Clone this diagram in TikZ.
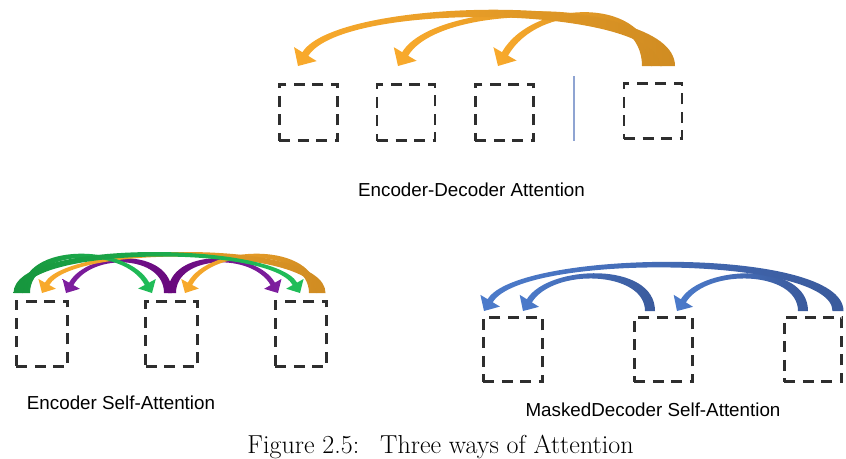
\documentclass[tikz,border=0pt]{standalone}
\usepackage{fontspec}
\newfontfamily\arialf{Liberation Sans}
\definecolor{orH}{HTML}{F9AA2C}
\definecolor{orM}{HTML}{F6B94E}
\definecolor{orB}{HTML}{D08C22}
\definecolor{grH}{HTML}{20BE5A}
\definecolor{grB}{HTML}{17963D}
\definecolor{puH}{HTML}{7E1FA0}
\definecolor{puB}{HTML}{68097C}
\definecolor{blH}{HTML}{4C7BCB}
\definecolor{blB}{HTML}{3A5A9C}
\definecolor{boxgray}{HTML}{2E2E2E}
\definecolor{sepcol}{HTML}{8FA4D2}
% tapered curved arrow:
% #1 xs, #2 xt, #3 yb, #4 H, #5 q, #6 base width, #7 neck width, #8 head length, #9 fill style
\newcommand\tparr[9]{%
 \pgfmathsetmacro\tpd{(#2>#1)?1:-1}%
 \pgfmathsetmacro\tpn{sqrt((#5)*(#5)+(#4)*(#4))}%
 \pgfmathsetmacro\tpux{(\tpd)*(#5)/(\tpn)}%
 \pgfmathsetmacro\tpuy{(#4)/(\tpn)}%
 \pgfmathsetmacro\tppx{(\tpd)*(\tpuy)}%
 \pgfmathsetmacro\tppy{-(\tpd)*(\tpux)}%
 \pgfmathsetmacro\tpNx{#2-(#8)*(\tpux)}%
 \pgfmathsetmacro\tpNy{#3-(#8)*(\tpuy)}%
 \pgfmathsetmacro\tphw{0.95*(#8)}%
 \pgfmathsetmacro\tpcx{#2-(\tpd)*(#5)}%
 \pgfmathsetmacro\tpcy{#3-(#4)}%
 \pgfmathsetmacro\tpbo{#1-(\tpd)*(#6)/2}%
 \pgfmathsetmacro\tpbi{#1+(\tpd)*(#6)/2}%
 \pgfmathsetmacro\tpco{#3-(#4)-(#6)/2}%
 \pgfmathsetmacro\tpci{#3-(#4)+(#6)/2}%
 \path[#9] (\tpbo,#3) .. controls (\tpbo,\tpco) and ({\tpcx+(#7)/2*(\tppx)},{\tpcy+(#7)/2*(\tppy)}) .. ({\tpNx+(#7)/2*(\tppx)},{\tpNy+(#7)/2*(\tppy)}) -- ({\tpNx+(\tphw)*(\tppx)},{\tpNy+(\tphw)*(\tppy)}) -- (#2,#3) -- ({\tpNx-(\tphw)*(\tppx)},{\tpNy-(\tphw)*(\tppy)}) -- ({\tpNx-(#7)/2*(\tppx)},{\tpNy-(#7)/2*(\tppy)}) .. controls ({\tpcx-(#7)/2*(\tppx)},{\tpcy-(#7)/2*(\tppy)}) and (\tpbi,\tpci) .. (\tpbi,#3) -- cycle;%
}
\tikzset{
  dbox/.style={draw=boxgray, line width=2.6pt, dash pattern=on 11pt off 7.5pt, inner sep=0pt},
  lab/.style={font=\arialf\fontsize{18.8}{22}\selectfont, text=black, inner sep=0pt, anchor=base},
  figcap/.style={font=\fontsize{26}{30}\selectfont, text=black, inner sep=0pt, anchor=base},
  orarr/.style={left color=orH, middle color=orM, right color=orB},
  orarrS/.style={left color=orH, middle color=orH!40!white, right color=orB},
  grarr/.style={left color=grB, middle color=grH!40!white, right color=grH},
  puarr/.style={left color=puH, middle color=puH!55!white, right color=puB},
  puarrR/.style={left color=puB, middle color=puH!55!white, right color=puH},
  blarr/.style={left color=blH, middle color=blH!80!white, right color=blB},
}
\begin{document}
\begin{tikzpicture}[x=1pt,y=-1pt]
\useasboundingbox (0,0) rectangle (846,458);
% ---------- top: encoder-decoder attention ----------
\node[dbox, minimum width=58.5pt, minimum height=56.5pt] (t1) at (308.5,112.5) {};
\node[dbox, minimum width=58pt, minimum height=56.5pt] (t2) at (406,112.5) {};
\node[dbox, minimum width=58.5pt, minimum height=56.5pt] (t3) at (504.5,112.5) {};
\node[dbox, minimum width=58pt, minimum height=55.5pt] (t4) at (653,111) {};
\coordinate (sepA) at (574,76);
\coordinate (sepB) at (574,141);
\draw[sepcol, line width=1.4pt] (sepA) -- (sepB);
\tparr{647}{498}{66}{66}{38}{10}{7}{14}{orarr}
\tparr{656.5}{398}{66}{67}{40}{11}{7}{14}{orarr}
\tparr{667.5}{298}{66}{68}{42}{15}{7}{14}{orarr}
\node[lab] (ted) at (471.5,196) {Encoder-Decoder Attention};
% ---------- bottom left: encoder self-attention ----------
\node[dbox, minimum width=51.5pt, minimum height=65.5pt] (l1) at (42,334) {};
\node[dbox, minimum width=52pt, minimum height=65.5pt] (l2) at (171.5,334) {};
\node[dbox, minimum width=51.5pt, minimum height=65.5pt] (l3) at (301,334) {};
\tparr{172}{278}{293}{42}{24}{8}{5}{10.5}{puarrR}
\tparr{168}{66}{293}{42}{24}{8}{5}{10.5}{puarr}
\tparr{313}{185}{293}{48}{26}{8}{5}{10.5}{orarrS}
\tparr{321}{42}{293}{50}{28}{9}{5}{10.5}{orarrS}
\tparr{26}{152}{293}{48}{26}{8}{5}{10.5}{grarr}
\tparr{18}{300}{293}{50}{28}{9}{5}{10.5}{grarr}
\node[lab] (tes) at (121,409) {Encoder Self-Attention};
% ---------- bottom right: masked decoder self-attention ----------
\node[dbox, minimum width=59.5pt, minimum height=64.5pt] (r1) at (513,349.5) {};
\node[dbox, minimum width=58.5pt, minimum height=64.5pt] (r2) at (663.5,349.5) {};
\node[dbox, minimum width=57.5pt, minimum height=64.5pt] (r3) at (813,349.5) {};
\tparr{650}{523}{311}{45}{28}{10}{6}{12}{blarr}
\tparr{803}{677}{311}{45}{28}{10}{6}{12}{blarr}
\tparr{838}{484}{311}{60}{36}{11}{6}{12}{blarr}
\node[lab] (tmd) at (653,416) {MaskedDecoder Self-Attention};
% ---------- caption ----------
\node[figcap] (fcap) at (440.5,453) {Figure 2.5:\hspace{0.8em}Three ways of Attention};
\end{tikzpicture}
\end{document}
